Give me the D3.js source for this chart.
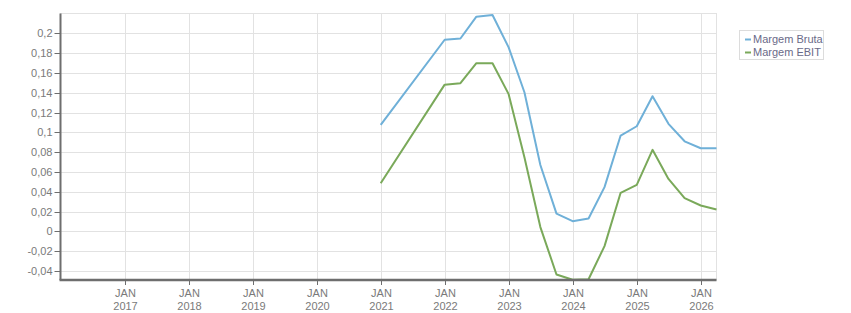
<!DOCTYPE html>
<html>
<head>
<meta charset="utf-8">
<script src="https://cdn.jsdelivr.net/npm/d3@7"></script>
<style>
  body { margin: 0; background: #fff; }
  text { font-family: "Liberation Sans", Arial, sans-serif; }
</style>
</head>
<body>
<div id="chart"></div>
<script>
// chart data
const dates = ["2021-01-01", "2022-01-01", "2022-04-01", "2022-07-01", "2022-10-01",
    "2023-01-01", "2023-04-01", "2023-07-01", "2023-10-01", "2024-01-01",
    "2024-04-01", "2024-07-01", "2024-10-01", "2025-01-01", "2025-04-01",
    "2025-07-01", "2025-10-01", "2026-01-01", "2026-04-01"];

const margemBruta = [0.1075, 0.1935, 0.1948, 0.2168, 0.2185,
    0.1858, 0.1405, 0.0671, 0.0180, 0.0104,
    0.0131, 0.0447, 0.0968, 0.1062, 0.1365,
    0.1086, 0.0910, 0.0840, 0.0840];

const margemEbit = [0.0487, 0.1482, 0.1496, 0.1698, 0.1698,
    0.1386, 0.0750, 0.0044, -0.0434, -0.0487,
    -0.0482, -0.0148, 0.0390, 0.0470, 0.0824,
    0.0530, 0.0336, 0.0262, 0.0222];

const seriesNames = ["Margem Bruta", "Margem EBIT"];
const seriesColors = ["#6fb0d8", "#7aa95a"];

const yTicks = [-0.04, -0.02, 0, 0.02, 0.04, 0.06, 0.08, 0.1, 0.12, 0.14, 0.16, 0.18, 0.2];
const xTickYears = [2017, 2018, 2019, 2020, 2021, 2022, 2023, 2024, 2025, 2026];

// layout
const width = 851;
const height = 313;
const plotLeft = 60.5, plotRight = 716.5, plotTop = 13.5, plotBottom = 280;

const parse = d3.utcParse("%Y-%m-%d");

const x = d3.scaleUtc()
    .domain([new Date(Date.UTC(2016, 0, 1)), new Date(Date.UTC(2026, 3, 1))])
    .range([plotLeft, plotRight]);

const y = d3.scaleLinear()
    .domain([-0.049, 0.22])
    .range([plotBottom, plotTop]);

const locale = d3.formatLocale({decimal: ",", thousands: ".", grouping: [3], currency: ["", ""], minus: "-"});
const fmt = locale.format("~g");

const svg = d3.select("#chart").append("svg")
    .attr("width", width)
    .attr("height", height);

const labelColor = "#7a7a7a";

// plot frame
svg.append("rect")
    .attr("x", plotLeft).attr("y", plotTop)
    .attr("width", plotRight - plotLeft).attr("height", plotBottom - plotTop)
    .attr("fill", "none").attr("stroke", "#e2e2e2");

// horizontal grid
svg.append("g").selectAll("line")
    .data(yTicks)
    .enter().append("line")
    .attr("x1", plotLeft).attr("x2", plotRight)
    .attr("y1", d => Math.round(y(d)) + 0.5).attr("y2", d => Math.round(y(d)) + 0.5)
    .attr("stroke", "#e2e2e2");

// vertical grid
const tickDates = xTickYears.map(yr => new Date(Date.UTC(yr, 0, 1)));
svg.append("g").selectAll("line")
    .data(tickDates)
    .enter().append("line")
    .attr("x1", d => Math.round(x(d)) + 0.5).attr("x2", d => Math.round(x(d)) + 0.5)
    .attr("y1", plotTop).attr("y2", plotBottom)
    .attr("stroke", "#e2e2e2");

// lines
const series = [margemBruta, margemEbit];
const line = d3.line()
    .x((d, i) => x(parse(dates[i])))
    .y(d => y(d));

svg.append("g").selectAll("path")
    .data(series)
    .enter().append("path")
    .attr("d", d => line(d))
    .attr("fill", "none")
    .attr("stroke", (d, i) => seriesColors[i])
    .attr("stroke-width", 2)
    .attr("stroke-linejoin", "round");

// y axis
const yAxis = svg.append("g");
yAxis.append("line")
    .attr("x1", plotLeft).attr("x2", plotLeft)
    .attr("y1", plotTop).attr("y2", plotBottom)
    .attr("stroke", "#6e6e6e").attr("stroke-width", 2);
const yt = yAxis.selectAll("g.tick")
    .data(yTicks)
    .enter().append("g")
    .attr("transform", d => `translate(0,${Math.round(y(d)) + 0.5})`);
yt.append("line")
    .attr("x1", plotLeft - 6).attr("x2", plotLeft)
    .attr("stroke", "#6e6e6e");
yt.append("text")
    .attr("x", plotLeft - 8)
    .attr("dy", "0.35em")
    .attr("text-anchor", "end")
    .attr("font-size", 11)
    .attr("fill", labelColor)
    .text(d => fmt(d));

// x axis
const xAxis = svg.append("g");
xAxis.append("line")
    .attr("x1", plotLeft - 1).attr("x2", plotRight)
    .attr("y1", plotBottom).attr("y2", plotBottom)
    .attr("stroke", "#6e6e6e").attr("stroke-width", 2.5);
const xt = xAxis.selectAll("g.tick")
    .data(tickDates)
    .enter().append("g")
    .attr("transform", d => `translate(${Math.round(x(d)) + 0.5},0)`);
xt.append("line")
    .attr("y1", plotBottom).attr("y2", plotBottom + 5)
    .attr("stroke", "#6e6e6e");
xt.append("text")
    .attr("y", plotBottom + 17)
    .attr("text-anchor", "middle")
    .attr("font-size", 11)
    .attr("fill", labelColor)
    .text("JAN");
xt.append("text")
    .attr("y", plotBottom + 30)
    .attr("text-anchor", "middle")
    .attr("font-size", 11)
    .attr("fill", labelColor)
    .text(d => d.getUTCFullYear());

// legend
const legend = svg.append("g");
legend.append("rect")
    .attr("x", 739.5).attr("y", 30.5)
    .attr("width", 84).attr("height", 29)
    .attr("fill", "#fff").attr("stroke", "#dcdcdc");
const li = legend.selectAll("g.item")
    .data(seriesNames)
    .enter().append("g")
    .attr("transform", (d, i) => `translate(745,${39.5 + i * 13})`);
li.append("line")
    .attr("x1", 0).attr("x2", 6)
    .attr("stroke", (d, i) => seriesColors[i])
    .attr("stroke-width", 2);
li.append("text")
    .attr("x", 8)
    .attr("dy", "0.35em")
    .attr("font-size", 11)
    .attr("fill", "#6a6a88")
    .text(d => d);
</script>
</body>
</html>
